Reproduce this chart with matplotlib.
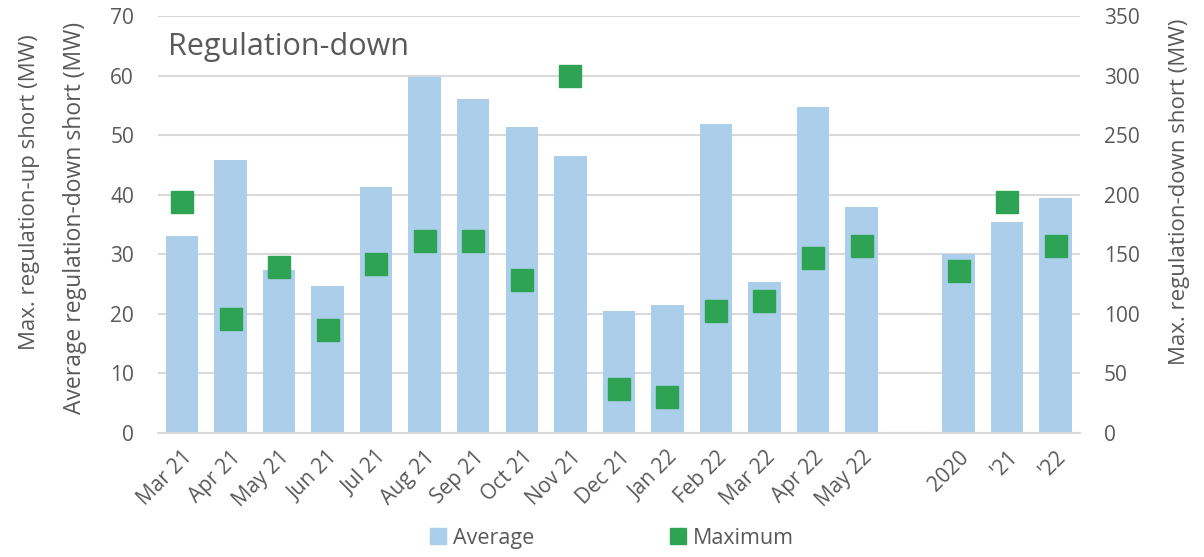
import matplotlib.pyplot as plt
from matplotlib.lines import Line2D
import numpy as np

plt.rcParams['font.family'] = ['Open Sans', 'DejaVu Sans']

labels = ['Mar 21', 'Apr 21', 'May 21', 'Jun 21', 'Jul 21', 'Aug 21', 'Sep 21',
          'Oct 21', 'Nov 21', 'Dec 21', 'Jan 22', 'Feb 22', 'Mar 22', 'Apr 22',
          'May 22', '', '2020', "'21", "'22"]
average = [33.1, 45.8, 27.3, 24.7, 41.3, 59.8, 56.1, 51.4, 46.5, 20.5, 21.4,
           51.8, 25.4, 54.8, 37.9, np.nan, 30.0, 35.4, 39.4]
maximum = [194, 96, 139, 86, 142, 161, 161, 128, 300, 37, 30, 102, 111, 147,
           157, np.nan, 136, 194, 157]

bar_color = '#abcfea'
max_color = '#2ea354'
text_color = '#595959'

fig = plt.figure(figsize=(12.04, 5.57), dpi=100)
ax = fig.add_axes([0.131, 0.223, 0.766, 0.748])
ax2 = ax.twinx()

x = np.arange(len(labels))
ax.bar(x, average, width=0.67, color=bar_color, zorder=2)
ax2.plot(x, maximum, 's', color=max_color, markersize=16, zorder=3)

ax.set_xlim(-0.5, len(labels) - 0.5)
ax.set_ylim(0, 70)
ax2.set_ylim(0, 350)
ax.set_yticks(range(0, 71, 10))
ax2.set_yticks(range(0, 351, 50))
ax.yaxis.grid(True, color='#d9d9d9', linewidth=1.5, zorder=0)
ax.set_axisbelow(True)

ax.set_xticks(x)
ax.set_xticklabels(labels, rotation=45, ha='right', rotation_mode='anchor')
for a in (ax, ax2):
    for s in a.spines.values():
        s.set_visible(False)
    a.tick_params(length=0, labelsize=15, colors=text_color)
ax.spines['bottom'].set_visible(True)
ax.spines['bottom'].set_color('#d9d9d9')
ax.spines['bottom'].set_linewidth(1.5)
ax.tick_params(axis='x', pad=10)
ax.tick_params(axis='y', pad=17)
ax2.tick_params(axis='y', pad=17)

# axis titles placed by hand to match the two-line left label
fig.text(30 / 1204, 1 - 192 / 557, 'Max. regulation-up short (MW)', rotation=90,
         fontsize=16, color=text_color, ha='center', va='center')
fig.text(75 / 1204, 1 - 218 / 557, 'Average regulation-down short (MW)', rotation=90,
         fontsize=16.5, color=text_color, ha='center', va='center')
fig.text(1180 / 1204, 1 - 192 / 557, 'Max. regulation-down short (MW)', rotation=90,
         fontsize=16, color=text_color, ha='center', va='center')

ax.text(0.011, 0.925, 'Regulation-down', transform=ax.transAxes, fontsize=22,
        color=text_color, va='center', ha='left')

handles = [Line2D([], [], marker='s', linestyle='', color=bar_color, markersize=12),
           Line2D([], [], marker='s', linestyle='', color=max_color, markersize=12)]
fig.legend(handles, ['Average', 'Maximum'], loc='lower center',
           bbox_to_anchor=(0.508, -0.02), ncol=2, frameon=False, fontsize=15.5,
           labelcolor=text_color, handlelength=0.8, handletextpad=0.3,
           columnspacing=6.3)

fig.savefig('out.png', dpi=100)
